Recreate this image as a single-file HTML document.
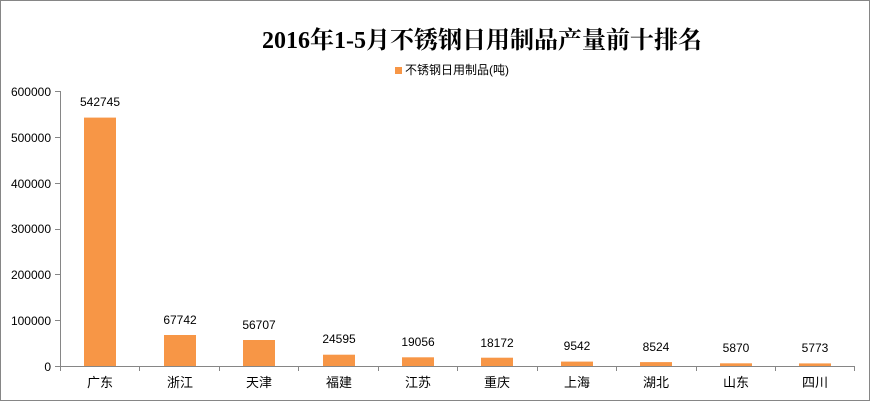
<!DOCTYPE html>
<html><head><meta charset="utf-8"><style>
body{margin:0;background:#fff}
svg{display:block;font-family:"Liberation Sans","Noto Sans CJK SC",sans-serif}
</style></head><body>
<svg width="871" height="402" viewBox="0 0 871 402">
<rect x="0.5" y="0.5" width="869" height="400" fill="#fff" stroke="#868686"/>
<text x="482" y="48" text-anchor="middle" font-family="Liberation Serif,'Noto Serif CJK SC',serif" font-weight="bold" font-size="24" fill="#000">2016年1-5月不锈钢日用制品产量前十排名</text>
<rect x="395" y="67" width="7" height="7" fill="#F79646"/>
<text x="405" y="74" font-size="12" fill="#000">不锈钢日用制品(吨)</text>
<g stroke="#868686" stroke-width="1">
<line x1="60.5" y1="91" x2="60.5" y2="366"/>
<line x1="60" y1="366.5" x2="855" y2="366.5"/>
<line x1="55" y1="91.5" x2="60" y2="91.5"/><line x1="55" y1="137.5" x2="60" y2="137.5"/><line x1="55" y1="183.5" x2="60" y2="183.5"/><line x1="55" y1="229.5" x2="60" y2="229.5"/><line x1="55" y1="274.5" x2="60" y2="274.5"/><line x1="55" y1="320.5" x2="60" y2="320.5"/><line x1="55" y1="366.5" x2="60" y2="366.5"/>
<line x1="60.5" y1="366" x2="60.5" y2="371"/><line x1="139.5" y1="366" x2="139.5" y2="371"/><line x1="219.5" y1="366" x2="219.5" y2="371"/><line x1="298.5" y1="366" x2="298.5" y2="371"/><line x1="378.5" y1="366" x2="378.5" y2="371"/><line x1="457.5" y1="366" x2="457.5" y2="371"/><line x1="537.5" y1="366" x2="537.5" y2="371"/><line x1="616.5" y1="366" x2="616.5" y2="371"/><line x1="696.5" y1="366" x2="696.5" y2="371"/><line x1="775.5" y1="366" x2="775.5" y2="371"/><line x1="854.5" y1="366" x2="854.5" y2="371"/>
</g>
<g font-size="12" fill="#000" text-anchor="end">
<text x="51" y="96">600000</text><text x="51" y="142">500000</text><text x="51" y="188">400000</text><text x="51" y="233">300000</text><text x="51" y="279">200000</text><text x="51" y="325">100000</text><text x="51" y="371">0</text>
</g>
<g fill="#F79646">
<rect x="84" y="117.6" width="32" height="248.4"/>
<rect x="164" y="335" width="32" height="31"/>
<rect x="243" y="340" width="32" height="26"/>
<rect x="323" y="354.7" width="32" height="11.3"/>
<rect x="402" y="357.3" width="32" height="8.7"/>
<rect x="481" y="357.7" width="32" height="8.3"/>
<rect x="561" y="361.6" width="32" height="4.4"/>
<rect x="640" y="362.1" width="32" height="3.9"/>
<rect x="720" y="363.3" width="32" height="2.7"/>
<rect x="799" y="363.4" width="32" height="2.6"/>
</g>
<g font-size="12" fill="#000" text-anchor="middle">
<text x="100" y="106">542745</text>
<text x="180" y="324">67742</text>
<text x="259" y="329">56707</text>
<text x="339" y="343">24595</text>
<text x="418" y="346">19056</text>
<text x="497" y="347">18172</text>
<text x="577" y="350">9542</text>
<text x="656" y="351">8524</text>
<text x="736" y="352">5870</text>
<text x="815" y="352">5773</text>
</g>
<g font-size="13" fill="#000" text-anchor="middle">
<text x="100" y="387">广东</text><text x="180" y="387">浙江</text><text x="259" y="387">天津</text><text x="339" y="387">福建</text><text x="418" y="387">江苏</text><text x="497" y="387">重庆</text><text x="577" y="387">上海</text><text x="656" y="387">湖北</text><text x="736" y="387">山东</text><text x="815" y="387">四川</text>
</g>
</svg>
</body></html>
